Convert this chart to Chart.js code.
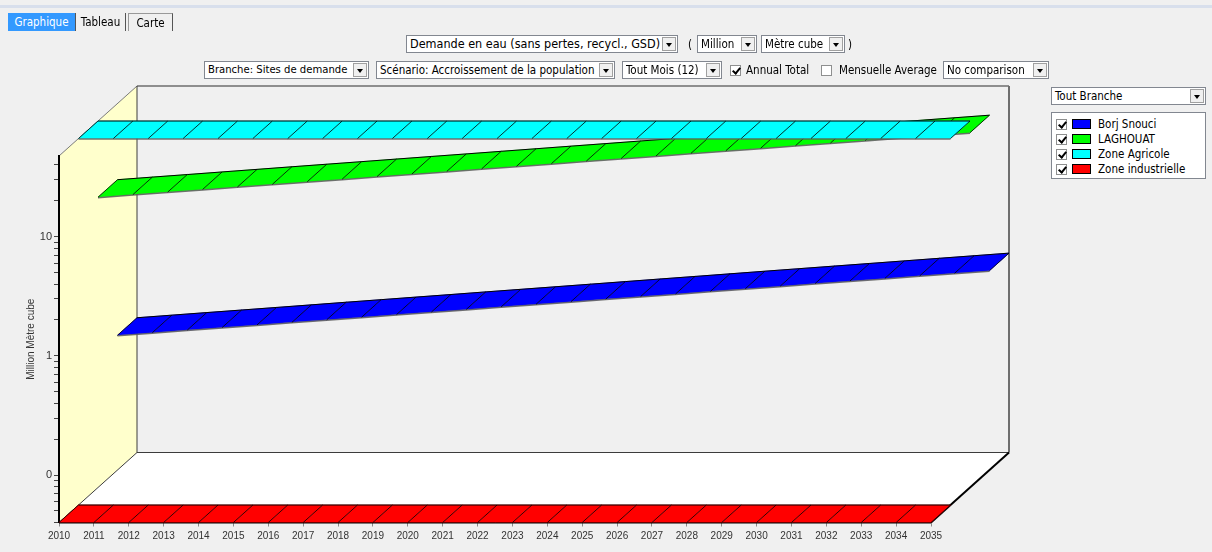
<!DOCTYPE html>
<html>
<head>
<meta charset="utf-8">
<script src="https://cdn.jsdelivr.net/npm/chart.js@4/dist/chart.umd.min.js"></script>
<style>
html,body{margin:0;padding:0;background:#f0f0f0;width:1212px;height:552px;overflow:hidden;}
body{font-family:"DejaVu Sans Condensed","DejaVu Sans",sans-serif;font-stretch:condensed;}
#wrap{position:relative;width:1212px;height:552px;}
#c{position:absolute;left:0;top:0;}
.topline{position:absolute;left:0;top:5px;width:1212px;height:3px;background:#d8dfec;}
.tab{position:absolute;top:13px;height:18px;font-size:11.5px;line-height:18px;text-align:center;color:#000;box-sizing:border-box;}
.tab.sel{background:#3399ff;color:#fff;}
.ui{position:absolute;font-size:11.5px;color:#000;white-space:nowrap;line-height:14px;}
.combo{position:absolute;height:18px;background:#fff;border:1px solid #828790;box-sizing:border-box;font-size:11.5px;line-height:16px;padding-left:3px;white-space:nowrap;color:#000;overflow:hidden;}
.combo .btn{position:absolute;right:1px;top:1px;width:14px;height:14px;background:#f0f0f0;border:1px solid #a0a0a0;box-sizing:border-box;}
.combo .btn:after{content:"";position:absolute;left:3px;top:5px;border-left:3.5px solid transparent;border-right:3.5px solid transparent;border-top:4px solid #000;}
.chk{position:absolute;width:11px;height:11px;border:1px solid #8e8f8f;background:#fff;box-sizing:border-box;}
.chk.on:after{content:"";position:absolute;left:3px;top:0px;width:3px;height:6px;border:solid #000;border-width:0 2px 2px 0;transform:rotate(40deg);}
#legend{position:absolute;left:1051px;top:112px;width:155px;height:67px;background:#fff;border:1px solid #828790;box-sizing:border-box;}
.lrow{position:absolute;left:0;height:15px;width:150px;}
.lrow .chk{left:4px;top:2px;}
.lrow .sw{position:absolute;left:20px;top:2px;width:19px;height:10px;border:1px solid #000;box-sizing:border-box;}
.lrow .lt{position:absolute;left:46px;top:0px;font-size:11.5px;line-height:14px;color:#000;}
</style>
</head>
<body>
<div id="wrap">
  <canvas id="c" width="1212" height="552"></canvas>

  <div class="topline"></div>
  <div class="tab sel" style="left:8px;width:67px;">Graphique</div>
  <div class="tab" style="left:75px;width:51px;border-left:1px solid #555;border-right:1px solid #555;">Tableau</div>
  <div class="tab" style="left:128px;width:45px;border:1px solid #999;border-bottom:none;border-right:1px solid #555;">Carte</div>

  <div class="combo" style="left:406px;top:35px;width:272px;font-size:12.5px;">Demande en eau (sans pertes, recycl., GSD)<span class="btn"></span></div>
  <div class="ui" style="left:688px;top:38px;">(</div>
  <div class="combo" style="left:697px;top:35px;width:60px;">Million<span class="btn"></span></div>
  <div class="combo" style="left:761px;top:35px;width:84px;">Mètre cube<span class="btn"></span></div>
  <div class="ui" style="left:848px;top:38px;">)</div>

  <div class="combo" style="left:204px;top:61px;width:165px;font-size:11.2px;">Branche: Sites de demande<span class="btn"></span></div>
  <div class="combo" style="left:376px;top:61px;width:239px;">Scénario: Accroissement de la population<span class="btn"></span></div>
  <div class="combo" style="left:622px;top:61px;width:100px;">Tout Mois (12)<span class="btn"></span></div>
  <div class="chk on" style="left:730px;top:65px;"></div>
  <div class="ui" style="left:746px;top:63px;">Annual Total</div>
  <div class="chk" style="left:821px;top:65px;"></div>
  <div class="ui" style="left:839px;top:63px;">Mensuelle Average</div>
  <div class="combo" style="left:943px;top:61px;width:106px;">No comparison<span class="btn"></span></div>

  <div class="combo" style="left:1051px;top:87px;width:155px;">Tout Branche<span class="btn"></span></div>
  <div id="legend"></div>
</div>

<script>
// Years on the horizontal axis
const years = ['2010','2011','2012','2013','2014','2015','2016','2017','2018','2019','2020','2021','2022',
               '2023','2024','2025','2026','2027','2028','2029','2030','2031','2032','2033','2034','2035'];

// Annual water demand, million m³
const borjSnouci = [0.54,0.568,0.597,0.627,0.659,0.693,0.729,0.766,0.805,0.846,0.890,0.935,0.983,
                    1.033,1.086,1.142,1.200,1.262,1.327,1.395,1.466,1.541,1.620,1.703,1.790,1.882];
const laghouat = [10.9,11.46,12.04,12.66,13.31,13.99,14.70,15.45,16.24,17.07,17.94,18.86,19.82,
                  20.84,21.90,23.02,24.20,25.43,26.73,28.10,29.54,31.05,32.63,34.30,36.05,37.89];
const zoneAgricole = [47.5,47.5,47.5,47.5,47.5,47.5,47.5,47.5,47.5,47.5,47.5,47.5,47.5,
                      47.5,47.5,47.5,47.5,47.5,47.5,47.5,47.5,47.5,47.5,47.5,47.5,47.5];
const zoneIndustrielle = [0,0,0,0,0,0,0,0,0,0,0,0,0,0,0,0,0,0,0,0,0,0,0,0,0,0];

const seriesNames = ['Borj Snouci','LAGHOUAT','Zone Agricole','Zone industrielle'];
const seriesColors = ['#0000ff','#00ff00','#00ffff','#ff0000'];

// Labelled decades of the log axis, and the mantissas that get a tick mark
const yTickValues = [0.1, 1, 10];
const yTickText = ['0', '1', '10'];
const yMantissas = [1, 2, 3, 4, 5, 6, 7, 8, 9];
const yMin = 0.04, yMax = 47.5;

// Oblique depth of the 3D box (pixels from the front plane to the back wall)
const DEPTH_X = 78, DEPTH_Y = -70;

function poly(ctx, pts, fill, stroke, lw) {
  ctx.beginPath();
  ctx.moveTo(pts[0][0], pts[0][1]);
  for (let i = 1; i < pts.length; i++) ctx.lineTo(pts[i][0], pts[i][1]);
  ctx.closePath();
  if (fill) { ctx.fillStyle = fill; ctx.fill(); }
  if (stroke) { ctx.strokeStyle = stroke; ctx.lineWidth = lw || 1; ctx.stroke(); }
}
function line(ctx, x0, y0, x1, y1, color, lw) {
  ctx.beginPath();
  ctx.moveTo(x0, y0); ctx.lineTo(x1, y1);
  ctx.strokeStyle = color; ctx.lineWidth = lw; ctx.stroke();
}

// Walls and floor of the box, plus one ribbon per series laid out in depth slots
const box3d = {
  id: 'box3d',
  beforeDraw(chart) {
    const ctx = chart.ctx, a = chart.chartArea;
    const dx = DEPTH_X, dy = DEPTH_Y;
    ctx.save();
    poly(ctx, [[a.left+dx,a.top+dy],[a.right+dx,a.top+dy],[a.right+dx,a.bottom+dy],[a.left+dx,a.bottom+dy]], '#f0f0f0');
    poly(ctx, [[a.left,a.top],[a.left+dx,a.top+dy],[a.left+dx,a.bottom+dy],[a.left,a.bottom]], '#ffffcc');
    poly(ctx, [[a.left,a.bottom],[a.left+dx,a.bottom+dy],[a.right+dx,a.bottom+dy],[a.right,a.bottom]], '#ffffff');
    line(ctx, a.left, a.top, a.left+dx, a.top+dy, '#7a7a7a', 1);
    line(ctx, a.left+dx, a.top+dy, a.right+dx, a.top+dy, '#6e6e6e', 1.5);
    line(ctx, a.right+dx, a.top+dy, a.right+dx, a.bottom+dy, '#6e6e6e', 2);
    line(ctx, a.left+dx, a.top+dy, a.left+dx, a.bottom+dy, '#3c3c3c', 1);
    line(ctx, a.left+dx, a.bottom+dy, a.right+dx, a.bottom+dy, '#3c3c3c', 1);
    line(ctx, a.left, a.bottom, a.left+dx, a.bottom+dy, '#3c3c3c', 1);
    line(ctx, a.right, a.bottom, a.right+dx, a.bottom+dy, '#000000', 2);
    ctx.restore();
  },
  beforeDatasetsDraw(chart) {
    const ctx = chart.ctx;
    const xs = chart.scales.x, ys = chart.scales.y;
    const sets = chart.data.datasets;
    const n = sets.length;
    ctx.save();
    ctx.lineJoin = 'round';
    for (let i = 0; i < n; i++) {
      const ds = sets[i];
      const slot = n - 1 - i;
      const f = slot / n, b = (slot + 1) / n;
      const pts = ds.data.map((v, j) => {
        const x = xs.getPixelForValue(j), y = ys.getPixelForValue(v);
        return { fx: x + f*DEPTH_X, fy: y + f*DEPTH_Y, bx: x + b*DEPTH_X, by: y + b*DEPTH_Y };
      });
      for (let j = 0; j < pts.length - 1; j++) {
        const p = pts[j], q = pts[j+1];
        poly(ctx, [[p.fx,p.fy],[q.fx,q.fy],[q.bx,q.by],[p.bx,p.by]], ds.backgroundColor);
        ctx.strokeStyle = ds.backgroundColor; ctx.lineWidth = 0.6; ctx.stroke();
      }
      // front edge (shaded)
      ctx.beginPath();
      pts.forEach((p, j) => j ? ctx.lineTo(p.fx, p.fy + 0.5) : ctx.moveTo(p.fx, p.fy + 0.5));
      ctx.strokeStyle = slot === 0 ? '#000' : 'rgba(90,90,90,0.85)'; ctx.lineWidth = slot === 0 ? 1 : 1.5; ctx.stroke();
      // back edge
      ctx.beginPath();
      pts.forEach((p, j) => j ? ctx.lineTo(p.bx, p.by) : ctx.moveTo(p.bx, p.by));
      ctx.strokeStyle = '#000'; ctx.lineWidth = 1; ctx.stroke();
      // year dividers
      pts.forEach(p => line(ctx, p.fx, p.fy, p.bx, p.by, '#000', 0.8));
    }
    ctx.restore();
  }
};

const datasets = [borjSnouci, laghouat, zoneAgricole, zoneIndustrielle].map((d, i) => ({
  label: seriesNames[i],
  data: d,
  backgroundColor: seriesColors[i],
  borderColor: seriesColors[i],
  borderWidth: 0,
  pointRadius: 0,
  showLine: false
}));

Chart.defaults.font.family = '"Liberation Sans", Arial, sans-serif';

const chart = new Chart(document.getElementById('c'), {
  type: 'line',
  data: { labels: years, datasets },
  options: {
    responsive: false,
    animation: false,
    events: [],
    layout: { padding: { top: 156, right: 281, bottom: 0, left: 0 } },
    plugins: { legend: { display: false }, tooltip: { enabled: false } },
    scales: {
      x: {
        type: 'category',
        offset: false,
        grid: { drawOnChartArea: false, drawTicks: true, tickLength: 4, color: '#8a8a8a' },
        border: { display: true, color: '#000', width: 1 },
        ticks: { autoSkip: false, maxRotation: 0, minRotation: 0, padding: 4, color: '#333', font: { size: 10 } },
        afterFit(scale) { scale.height = 29.5; }
      },
      y: {
        type: 'logarithmic',
        min: yMin,
        max: yMax,
        grid: { drawOnChartArea: false, drawTicks: true, tickLength: 5, color: '#444' },
        border: { display: true, color: '#000', width: 2 },
        ticks: {
          autoSkip: false,
          source: 'data',
          padding: 2,
          color: '#333',
          font: { size: 11 },
          callback(value) {
            const k = yTickValues.findIndex(v => Math.abs(v - value) < v * 1e-6);
            return k >= 0 ? yTickText[k] : '';
          }
        },
        afterBuildTicks(scale) {
          const ticks = [];
          for (let e = Math.floor(Math.log10(yMin)); e <= Math.floor(Math.log10(yMax)); e++) {
            yMantissas.forEach(m => {
              const v = +(m * Math.pow(10, e)).toPrecision(6);
              if (v >= yMin && v <= yMax) ticks.push({ value: v });
            });
          }
          scale.ticks = ticks;
        },
        title: { display: true, text: 'Million Mètre cube', color: '#333', font: { size: 10 }, padding: { top: 25, bottom: 0 } },
        afterFit(scale) { scale.width = 59; }
      }
    }
  },
  plugins: [box3d]
});

// Series checklist on the right
const legend = document.getElementById('legend');
chart.data.datasets.forEach((ds, i) => {
  const row = document.createElement('div');
  row.className = 'lrow';
  row.style.top = (4 + i * 15) + 'px';
  row.innerHTML = '<div class="chk on"></div><div class="sw" style="background:' + ds.backgroundColor +
                  '"></div><div class="lt">' + ds.label + '</div>';
  legend.appendChild(row);
});
</script>
</body>
</html>
